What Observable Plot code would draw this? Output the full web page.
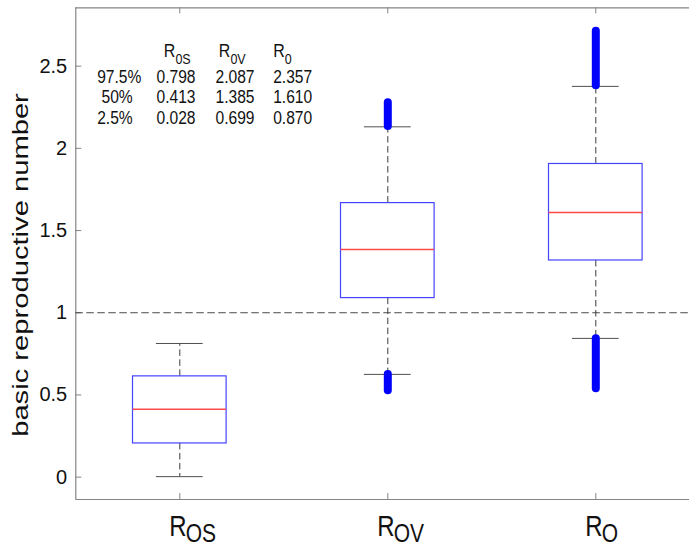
<!DOCTYPE html>
<html>
<head>
<meta charset="utf-8">
<script src="https://cdn.jsdelivr.net/npm/d3@7"></script>
<script src="https://cdn.jsdelivr.net/npm/@observablehq/plot@0.6"></script>
<style>
  html, body { margin: 0; padding: 0; background: #fff; }
  svg { display: block; }
</style>
</head>
<body>
<div id="chart"></div>
<script>
// ---------------- data ----------------
const categoryMain = ["R", "R", "R"];
const categorySub = ["OS", "OV", "O"];
const positions = [1, 2, 3];
const q1 = [0.205, 1.089, 1.318];
const medians = [0.413, 1.385, 1.610];
const q3 = [0.613, 1.667, 1.905];
const whiskerLow = [0.003, 0.625, 0.844];
const whiskerHigh = [0.813, 2.131, 2.377];
// outlier runs (dense markers) per category position
const outlierPosition = [2, 2, 3, 3];
const outlierFrom = [0.526, 2.133, 0.538, 2.381];
const outlierTo = [0.625, 2.277, 0.842, 2.713];
const yTicks = [0, 0.5, 1, 1.5, 2, 2.5];
const yTickLabels = ["0", "0.5", "1", "1.5", "2", "2.5"];
const yDomain = [-0.136, 2.855];
const xDomain = [0.5, 3.5];
const referenceLine = [1];
const yLabel = "basic reproductive number";
const tableRowLabels = ["97.5%", "\u00a050%", "2.5%"];
const tableHeadMain = ["R", "R", "R"];
const tableHeadSub = ["0S", "0V", "0"];
const tableR0S = [0.798, 0.413, 0.028];
const tableR0V = [2.087, 1.385, 0.699];
const tableR0 = [2.357, 1.610, 0.870];

// ---------------- derived tables ----------------
const boxes = positions.map((p, i) => ({
  pos: p, main: categoryMain[i], sub: categorySub[i],
  q1: q1[i], median: medians[i], q3: q3[i],
  lo: whiskerLow[i], hi: whiskerHigh[i]
}));
const outliers = outlierPosition.map((p, i) => ({pos: p, from: outlierFrom[i], to: outlierTo[i]}));
const tableColumns = [tableR0S, tableR0V, tableR0];

// ---------------- layout / style ----------------
const W = 689, H = 547;
const mL = 75.3, mT = 7.3, mB = 48, mR = 0;
const frameW = W - mL - mR;
const frameH = H - mT - mB;
const halfBox = 0.225, halfCap = 0.1125;
const axisGray = "#858585";
const textColor = "#111";
const valueDx = [80.7, 139.7, 197.4];
const headDx = [88, 143, 197.4];
const headSubDx = [99.6, 154.6, 209];

const tableMarks = [];
tableMarks.push(Plot.text([tableRowLabels.join("\n")], {
  text: d => d, frameAnchor: "top-left", dx: 21.4, dy: 116.4,
  textAnchor: "start", lineAnchor: "bottom", lineHeight: 1.159, fontSize: 15.6,
  fill: textColor, ariaDescription: "tablebody"
}));
tableColumns.forEach((col, j) => {
  tableMarks.push(Plot.text([col.map(v => v.toFixed(3)).join("\n")], {
    text: d => d, frameAnchor: "top-left", dx: valueDx[j], dy: 116.4,
    textAnchor: "start", lineAnchor: "bottom", lineHeight: 1.159, fontSize: 15.6,
    fill: textColor, ariaDescription: "tablebody"
  }));
  tableMarks.push(Plot.text([tableHeadMain[j]], {
    text: d => d, frameAnchor: "top-left", dx: headDx[j], dy: 48.7,
    textAnchor: "start", lineAnchor: "bottom", fontSize: 16,
    fill: textColor, ariaDescription: "tablebody"
  }));
  tableMarks.push(Plot.text([tableHeadSub[j]], {
    text: d => d, frameAnchor: "top-left", dx: headSubDx[j], dy: 55.7,
    textAnchor: "start", lineAnchor: "bottom", fontSize: 12.5,
    fill: textColor, ariaDescription: "tablebody"
  }));
});

const plot = Plot.plot({
  width: W, height: H,
  marginLeft: mL, marginRight: mR, marginTop: mT, marginBottom: mB,
  style: {fontFamily: "'Liberation Sans', Arial, Helvetica, sans-serif", background: "#fff"},
  x: {type: "linear", domain: xDomain, range: [75.3, 699.3], axis: null},
  y: {type: "linear", domain: yDomain, range: [499, 7.3], axis: null},
  marks: [
    // frame (left, top, bottom; right side lies outside the picture)
    Plot.ruleX([xDomain[0]], {stroke: axisGray, strokeWidth: 1.2}),
    Plot.ruleY(yDomain, {stroke: axisGray, strokeWidth: 1.2}),
    // inward ticks
    Plot.tickY(yTicks, {y: d => d, stroke: axisGray, insetRight: frameW - 6}),
    Plot.tickX(positions, {x: d => d, stroke: axisGray, insetTop: frameH - 6}),
    Plot.tickX(positions, {x: d => d, stroke: axisGray, insetBottom: frameH - 6}),
    // reference line
    Plot.ruleY(referenceLine, {stroke: "#4a4a4a", strokeWidth: 1, strokeDasharray: "7.5,3.5"}),
    // whiskers
    Plot.ruleX(boxes, {x: "pos", y1: "q3", y2: "hi", stroke: "#3d3d3d", strokeWidth: 1, strokeDasharray: "6.5,3.5"}),
    Plot.ruleX(boxes, {x: "pos", y1: "q1", y2: "lo", stroke: "#3d3d3d", strokeWidth: 1, strokeDasharray: "6.5,3.5"}),
    Plot.ruleY(boxes, {y: "hi", x1: d => d.pos - halfCap, x2: d => d.pos + halfCap, stroke: "#505050", strokeWidth: 1}),
    Plot.ruleY(boxes, {y: "lo", x1: d => d.pos - halfCap, x2: d => d.pos + halfCap, stroke: "#505050", strokeWidth: 1}),
    // boxes
    Plot.rect(boxes, {x1: d => d.pos - halfBox, x2: d => d.pos + halfBox, y1: "q1", y2: "q3",
      fill: "white", stroke: "#4444ff", strokeWidth: 1.2}),
    Plot.ruleY(boxes, {y: "median", x1: d => d.pos - halfBox, x2: d => d.pos + halfBox, stroke: "#ff4a4a", strokeWidth: 1.6}),
    // outliers
    Plot.ruleX(outliers, {x: "pos", y1: "from", y2: "to", stroke: "#0000ff", strokeWidth: 8, strokeLinecap: "round"}),
    // y tick labels
    Plot.text(yTicks, {y: d => d, text: (d, i) => yTickLabels[i], frameAnchor: "left", textAnchor: "end",
      dx: -8.6, fontSize: 20, fill: textColor}),
    // y axis label
    Plot.text([yLabel], {text: d => d, frameAnchor: "left", dx: -48.1, dy: 11.35, rotate: -90,
      textAnchor: "middle", lineAnchor: "bottom", fontSize: 21.3, fill: textColor, ariaDescription: "ylabel"}),
    // x tick labels
    Plot.text(boxes, {x: "pos", text: "main", frameAnchor: "bottom", dx: -10.6, dy: 36,
      textAnchor: "start", lineAnchor: "bottom", fontSize: 24, fill: textColor, ariaDescription: "xlabel"}),
    Plot.text(boxes, {x: "pos", text: "sub", frameAnchor: "bottom", dx: 6, dy: 42.3,
      textAnchor: "start", lineAnchor: "bottom", fontSize: 21, fill: textColor, ariaDescription: "xlabel"}),
    ...tableMarks
  ]
});

// the source figure's lettering is stretched along the page's vertical direction
function stretch(desc, sx, sy) {
  plot.querySelectorAll(`g[aria-description="${desc}"] text`).forEach(el => {
    const t = el.getAttribute("transform") || "";
    el.setAttribute("transform", `${t} scale(${sx},${sy})`);
  });
}
stretch("ylabel", 1.37, 1);
stretch("xlabel", 1, 1.22);
stretch("tablebody", 1, 1.15);

document.getElementById("chart").appendChild(plot);
</script>
</body>
</html>
